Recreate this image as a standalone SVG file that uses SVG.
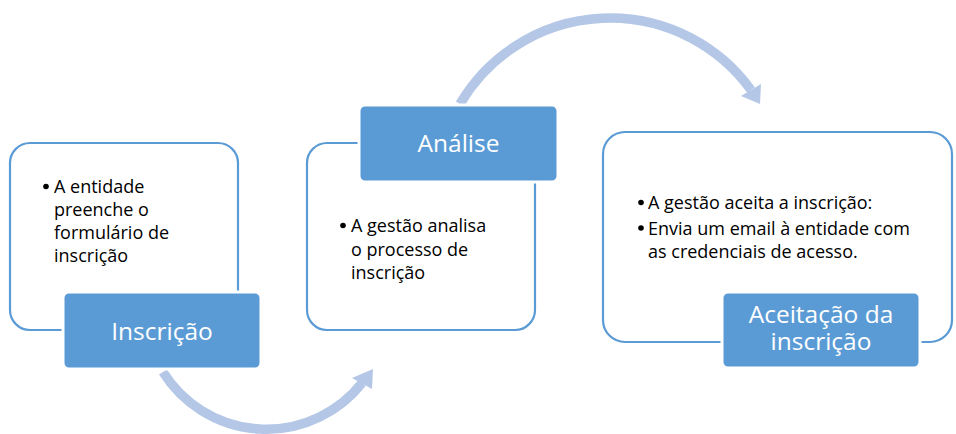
<svg xmlns="http://www.w3.org/2000/svg" width="956" height="434" viewBox="0 0 956 434">
<style>
.outline{fill:#FFFFFF;stroke:#5B9BD5;stroke-width:2.2}
.label{fill:#5B9BD5;stroke:#FFFFFF;stroke-width:3}
.ltxt{font-family:"Open Sans","Liberation Sans",sans-serif;font-size:24.5px;fill:#FFFFFF;text-anchor:middle}
.btxt{font-family:"Open Sans","Liberation Sans",sans-serif;font-size:18px;fill:#000000}
.dot{fill:#000000}
.arc{fill:none;stroke:#B4C7E7;stroke-width:9.5}
.head{fill:#B4C7E7}
</style>
<rect width="956" height="434" fill="#FFFFFF"/>
<g id="connectors">
<path class="arc" d="M460,104 A174,174 0 0,1 751,90"/>
<polygon class="head" points="741,96 761,84 760,104"/>
<path class="arc" d="M163,372 A122,122 0 0,0 362,383"/>
<polygon class="head" points="352,378 373,369 372,389"/>
</g>
<g id="node-inscricao">
<rect class="outline" x="10" y="143" width="228" height="187" rx="20"/>
<circle class="dot" cx="46" cy="186.5" r="2.8"/>
<text class="btxt" x="54" y="193">A entidade</text>
<text class="btxt" x="54" y="216">preenche o</text>
<text class="btxt" x="54" y="239">formulário de</text>
<text class="btxt" x="54" y="262">inscrição</text>
<rect class="label" x="63" y="292" width="198" height="77" rx="6"/>
<text class="ltxt" x="162" y="340">Inscrição</text>
</g>
<g id="node-analise">
<rect class="outline" x="307" y="143" width="228" height="187" rx="20"/>
<rect class="label" x="359" y="105" width="199" height="77" rx="6"/>
<text class="ltxt" x="458.5" y="152">Análise</text>
<circle class="dot" cx="343" cy="225.5" r="2.8"/>
<text class="btxt" x="351" y="232">A gestão analisa</text>
<text class="btxt" x="351" y="255.5">o processo de</text>
<text class="btxt" x="351" y="279">inscrição</text>
</g>
<g id="node-aceitacao">
<rect class="outline" x="603" y="132" width="349" height="210" rx="22"/>
<circle class="dot" cx="641" cy="202.5" r="2.8"/>
<text class="btxt" x="648" y="209">A gestão aceita a inscrição:</text>
<circle class="dot" cx="641" cy="228" r="2.8"/>
<text class="btxt" x="648" y="234.5">Envia um email à entidade com</text>
<text class="btxt" x="648" y="258">as credenciais de acesso.</text>
<rect class="label" x="722" y="292" width="198" height="76" rx="6"/>
<text class="ltxt" x="821" y="323">Aceitação da</text>
<text class="ltxt" x="821" y="350">inscrição</text>
</g>
</svg>
